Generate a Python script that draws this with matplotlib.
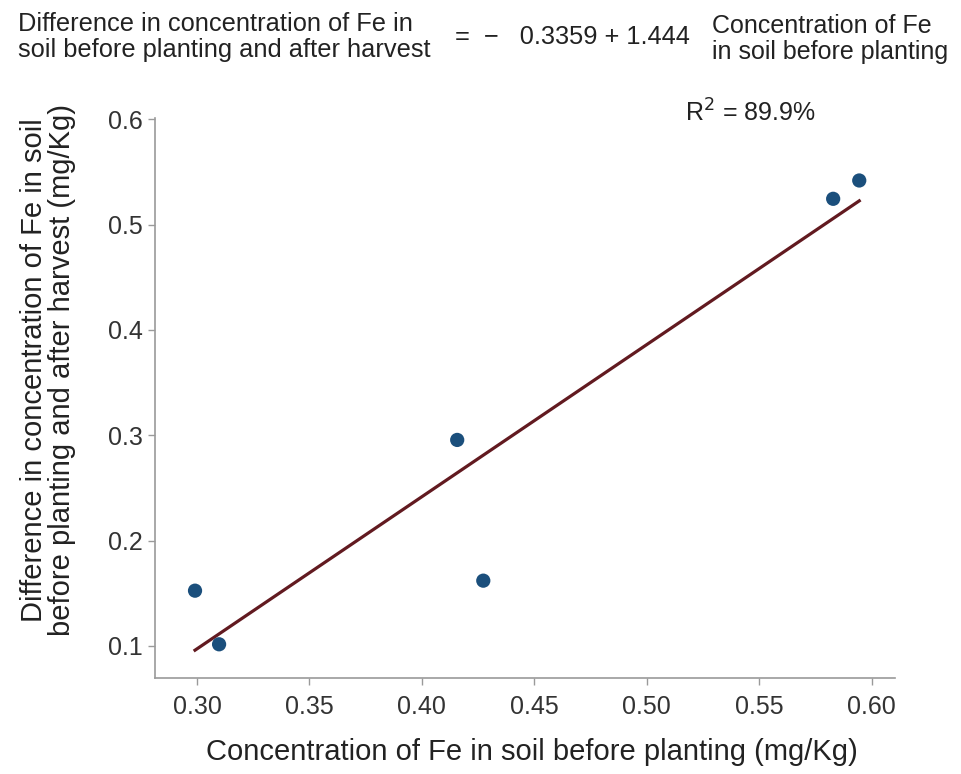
import numpy as np
import matplotlib
matplotlib.use("Agg")
import matplotlib.pyplot as plt

plt.rcParams['font.family'] = ['Liberation Sans', 'DejaVu Sans']

# Fe concentration in soil before planting (mg/Kg)
fe_before = [0.2991, 0.3098, 0.4273, 0.4157, 0.5829, 0.5945]
# Difference in Fe concentration before planting and after harvest (mg/Kg)
fe_diff = [0.1525, 0.1016, 0.1620, 0.2956, 0.5245, 0.5419]

intercept = -0.3359
slope = 1.444
r_squared = 89.9

x_ticks = [0.30, 0.35, 0.40, 0.45, 0.50, 0.55, 0.60]
y_ticks = [0.1, 0.2, 0.3, 0.4, 0.5, 0.6]

W, H = 961, 774
fig = plt.figure(figsize=(W / 100, H / 100), dpi=100)
ax = fig.add_axes([155 / W, 1 - 678 / H, 740 / W, 560.3 / H])

# fitted regression line over the range of observed x
xs = np.array([min(fe_before), max(fe_before)])
ax.plot(xs, intercept + slope * xs, color='#621a20', lw=2.3, zorder=2)
ax.scatter(fe_before, fe_diff, s=105, color='#1b4f7c', zorder=3, edgecolors='none')

ax.set_xlim(0.2813, 0.6104)
ax.set_ylim(0.0696, 0.6015)
ax.set_xticks(x_ticks)
ax.set_xticklabels([f"{t:.2f}" for t in x_ticks])
ax.set_yticks(y_ticks)
ax.set_yticklabels([f"{t:.1f}" for t in y_ticks])

for side in ('top', 'right'):
    ax.spines[side].set_visible(False)
for side in ('left', 'bottom'):
    ax.spines[side].set_color('#9a9a9a')
    ax.spines[side].set_linewidth(1.2)
ax.tick_params(axis='both', colors='#9a9a9a', length=5, width=1, labelsize=18,
               labelcolor='#333333')
ax.tick_params(axis='x', pad=7)
ax.tick_params(axis='y', pad=4)

ax.set_xlabel('Concentration of Fe in soil before planting (mg/Kg)', fontsize=21,
              color='#222222', va='center', ha='center')
ax.xaxis.set_label_coords((532 - 155) / 740, -(752 - 678) / 560.3)
ax.set_ylabel('Difference in concentration of Fe in soil\nbefore planting and after harvest (mg/Kg)',
              fontsize=21, color='#222222', va='center', ha='center', linespacing=1.0)
ax.yaxis.set_label_coords(-(155 - 47.5) / 740, (678 - 370) / 560.3)

fig.text(685 / W, 1 - 113 / H, f'R$^{{2}}$ = {r_squared}%', fontsize=18,
         color='#222222', ha='left', va='center')

# regression equation header
fig.text(18 / W, 1 - 37 / H,
         'Difference in concentration of Fe in\nsoil before planting and after harvest',
         fontsize=18.3, color='#222222', ha='left', va='center', linespacing=1.15)
fig.text(455 / W, 1 - 37 / H, f'=  \u2212   {-intercept} + {slope}',
         fontsize=18.3, color='#222222', ha='left', va='center')
fig.text(712 / W, 1 - 39 / H, 'Concentration of Fe\nin soil before planting',
         fontsize=18, color='#222222', ha='left', va='center', linespacing=1.15)

fig.savefig('out.png', dpi=100, facecolor='white')
